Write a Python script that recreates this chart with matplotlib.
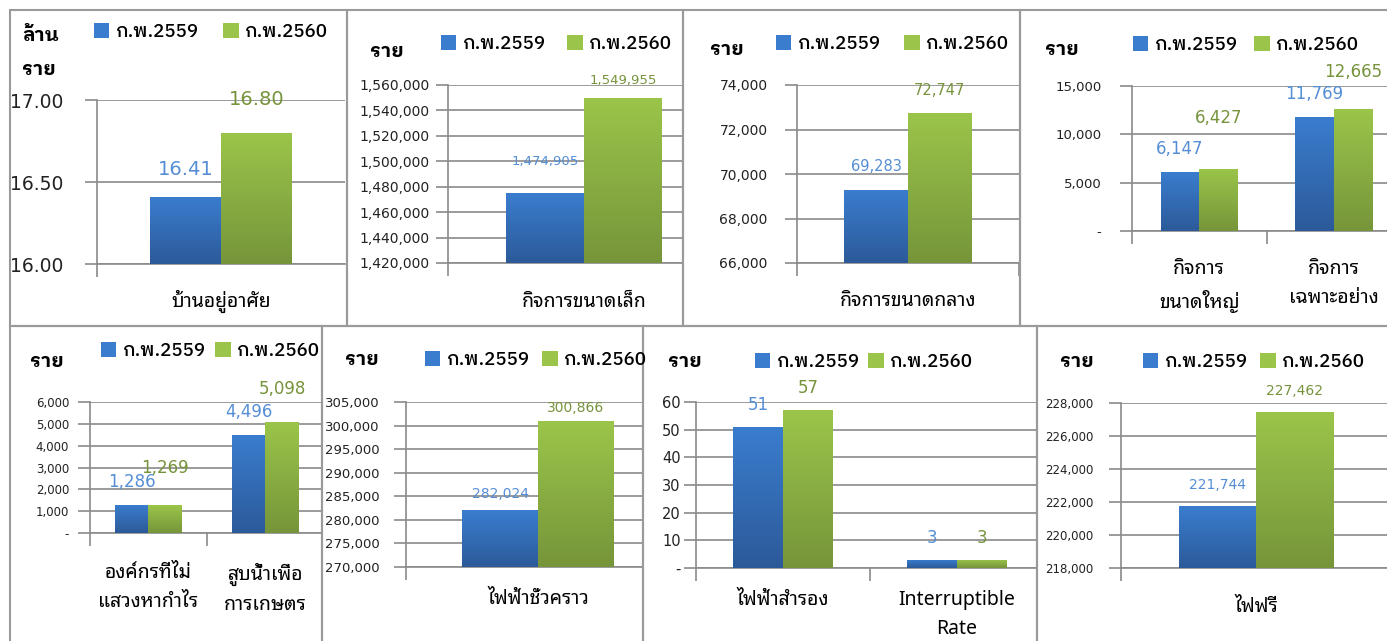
import numpy as np
import matplotlib
matplotlib.use("Agg")
import matplotlib.pyplot as plt
from matplotlib.patches import Rectangle
from matplotlib.colors import LinearSegmentedColormap

THAI = ["Noto Sans Thai Looped", "DejaVu Sans"]
THAI_B = ["IBM Plex Sans Thai Looped", "Noto Sans Thai Looped", "DejaVu Sans"]
NUM = ["DejaVu Sans"]

series = ["ก.พ.2559", "ก.พ.2560"]

# values per panel (2559, 2560)
cat1 = ["บ้านอยู่อาศัย"]
v1_59 = [16.41]
v1_60 = [16.80]
cat2 = ["กิจการขนาดเล็ก"]
v2_59 = [1474905]
v2_60 = [1549955]
cat3 = ["กิจการขนาดกลาง"]
v3_59 = [69283]
v3_60 = [72747]
cat4 = ["กิจการ\nขนาดใหญ่", "กิจการ\nเฉพาะอย่าง"]
v4_59 = [6147, 11769]
v4_60 = [6427, 12665]
cat5 = ["องค์กรที่ไม่\nแสวงหากำไร", "สูบน้ำเพื่อ\nการเกษตร"]
v5_59 = [1286, 4496]
v5_60 = [1269, 5098]
cat6 = ["ไฟฟ้าชั่วคราว"]
v6_59 = [282024]
v6_60 = [300866]
cat7 = ["ไฟฟ้าสำรอง", "Interruptible\nRate"]
v7_59 = [51, 3]
v7_60 = [57, 3]
cat8 = ["ไฟฟรี"]
v8_59 = [221744]
v8_60 = [227462]

W, H = 1387, 641
fig = plt.figure(figsize=(W / 100, H / 100), dpi=100)

blue_cm = LinearSegmentedColormap.from_list("b", ["#2c5a99", "#3a7dcf"])
green_cm = LinearSegmentedColormap.from_list("g", ["#76953a", "#9bc54a"])
grad = np.linspace(0, 1, 256).reshape(-1, 1)

# panel frames (pixels: x0, y0, x1, y1)
frames = [(10, 10, 347, 326), (347, 10, 683, 326), (683, 10, 1020, 326), (1020, 10, 1400, 326),
          (10, 326, 322, 660), (322, 326, 643, 660), (643, 326, 1037, 660), (1037, 326, 1400, 660)]
for x0, y0, x1, y1 in frames:
    fig.patches.append(Rectangle((x0 / W, 1 - y1 / H), (x1 - x0) / W, (y1 - y0) / H,
                                 transform=fig.transFigure, fill=False, ec="#9a9a9a", lw=1.5))

LEG_FS = 13.5


def fmt(v, dec):
    if v == 0:
        return "-"
    return f"{v:,.{dec}f}"


def panel(box, xr, cats, a, b, ylim, step, dec, tick_fs, tick_pad, lab_fs, offs,
          ylab, ylab_xy, leg_xy, leg_gap, cat_y):
    x0, y0, x1, y1 = box
    ax = fig.add_axes([x0 / W, 1 - y1 / H, (x1 - x0) / W, (y1 - y0) / H])
    ax.patch.set_alpha(0)
    n = len(cats)
    x = np.arange(n)
    w = 0.286
    bb = ax.bar(x - w / 2, a, w, color="#3a7dcf", label=series[0], zorder=3)
    bg = ax.bar(x + w / 2, b, w, color="#9bc54a", label=series[1], zorder=3)
    for bars, cm in ((bb, blue_cm), (bg, green_cm)):
        for r in bars:
            im = ax.imshow(grad, cmap=cm, origin="lower", aspect="auto", zorder=4,
                           extent=[r.get_x(), r.get_x() + r.get_width(), ylim[0], r.get_height()])
            im.set_clip_path(r)
    ticks = np.arange(ylim[0], ylim[1] + step / 2, step)
    ax.set_yticks(ticks)
    ax.set_yticklabels([fmt(t, dec) for t in ticks], fontsize=tick_fs, family=NUM, color="#222222")
    xt = np.arange(n + 1) - 0.5
    ax.set_xticks(xt[xt < xr - 1e-6])
    ax.set_xticklabels([])
    ax.set_xlim(-0.5, xr)
    ax.set_ylim(*ylim)
    ax.tick_params(axis="y", length=9, width=1.2, color="#8a8a8a", pad=tick_pad)
    ax.tick_params(axis="x", length=9, width=1.2, color="#8a8a8a")
    ax.grid(axis="y", color="#8a8a8a", lw=1.2, zorder=0)
    for s in ["top", "right"]:
        ax.spines[s].set_visible(False)
    for s in ["left", "bottom"]:
        ax.spines[s].set_color("#8a8a8a")
        ax.spines[s].set_linewidth(1.2)
    k = 0
    for bars, col in ((bb, "#558ed5"), (bg, "#77933c")):
        for r in bars:
            ax.annotate(fmt(r.get_height(), dec), (r.get_x() + r.get_width() / 2, r.get_height()),
                        xytext=(0, offs[k]), textcoords="offset pixels", ha="center", va="center",
                        fontsize=lab_fs, color=col, family=NUM, zorder=5)
            k += 1
    for i, c in enumerate(cats):
        ax.annotate(c, (i, ylim[0]), xytext=(0, -cat_y), textcoords="offset pixels",
                    ha="center", va="top", fontsize=14, family=THAI, linespacing=1.6,
                    annotation_clip=False)
    fig.text(ylab_xy[0] / W, 1 - ylab_xy[1] / H, ylab, fontsize=14, family=THAI_B,
             fontweight="bold", va="center", ha="left", linespacing=2.2)
    fig.legend(handles=[bb, bg], loc="center left", bbox_to_anchor=(leg_xy[0] / W, 1 - leg_xy[1] / H),
               ncol=2, frameon=False, prop={"family": THAI_B, "size": LEG_FS, "weight": "medium"},
               handlelength=0.82, handleheight=0.82, handletextpad=0.3,
               columnspacing=leg_gap / (LEG_FS / 0.72), borderpad=0, borderaxespad=0)
    return ax


panel((97, 100, 345, 264), 0.5, cat1, v1_59, v1_60, (16.0, 17.0), 0.5, 2, 13.5, 15, 14,
      [27, 33], "ล้าน\nราย", (22, 53), (94, 32), 25, 26)
panel((448, 85, 683, 263), 0.364, cat2, v2_59, v2_60, (1420000, 1560000), 20000, 0, 10, 4, 9.5,
      [32, 17], "ราย", (370, 52), (441, 44), 22, 29)
panel((797, 85, 1020, 263), 0.505, cat3, v3_59, v3_60, (66000, 74000), 2000, 0, 10, 12, 10.5,
      [23, 22], "ราย", (710, 50), (776, 44), 24, 28)
panel((1132, 86, 1394, 231), 1.447, cat4, v4_59, v4_60, (0, 15000), 5000, 0, 9.5, 13, 12,
      [23, 23, 51, 37], "ราย", (1045, 50), (1133, 45), 17, 28)
panel((90, 402, 322, 533), 1.483, cat5, v5_59, v5_60, (0, 6000), 1000, 0, 8.5, 6, 12,
      [23, 23, 37, 33], "ราย", (30, 362), (101, 351), 10, 30)
panel((406, 402, 643, 567), 0.398, cat6, v6_59, v6_60, (270000, 305000), 5000, 0, 9.5, 10, 10,
      [16, 13], "ราย", (345, 360), (425, 360), 13, 22)
panel((696, 402, 1037, 568), 1.46, cat7, v7_59, v7_60, (0, 60), 10, 0, 10.5, 2, 12,
      [22, 22, 22, 22], "ราย", (668, 362), (755, 362), 9, 22)
panel((1121, 403, 1387, 568), 0.485, cat8, v8_59, v8_60, (218000, 228000), 2000, 0, 8.5, 11, 10,
      [21, 21], "ราย", (1060, 362), (1143, 362), 13, 29)

fig.savefig("out.png", dpi=100)
